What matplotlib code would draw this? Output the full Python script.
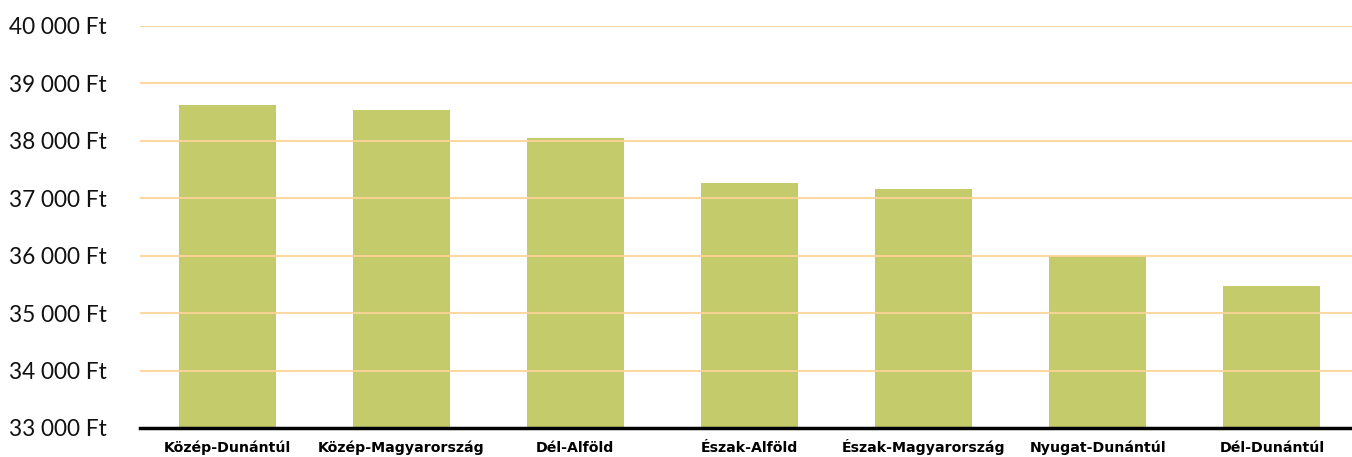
import matplotlib
matplotlib.use("Agg")
import matplotlib.pyplot as plt
from matplotlib.ticker import FuncFormatter

# Data
regions = ["Közép-Dunántúl", "Közép-Magyarország", "Dél-Alföld", "Észak-Alföld",
           "Észak-Magyarország", "Nyugat-Dunántúl", "Dél-Dunántúl"]
values = [38625, 38540, 38050, 37270, 37160, 36000, 35470]
y_ticks = [33000, 34000, 35000, 36000, 37000, 38000, 39000, 40000]

BAR_COLOR = "#C3CB6B"
GRID_COLOR = "#FDD498"

fig = plt.figure(figsize=(13.52, 4.57), dpi=100)
ax = fig.add_axes([140 / 1352, 29 / 457, 1 - 140 / 1352, (428 - 26) / 457])

x = range(len(regions))
ax.bar(x, values, width=0.557, color=BAR_COLOR, zorder=2)

# gridlines (not at the baseline)
for t in y_ticks[1:]:
    ax.axhline(t, color=GRID_COLOR, linewidth=1.5, zorder=3, alpha=0.9)

ax.set_ylim(33000, 40000)
ax.set_xlim(-0.5, 6.46)
ax.set_yticks(y_ticks)
ax.yaxis.set_major_formatter(FuncFormatter(lambda v, p: f"{int(v):,} Ft".replace(",", " ")))
ax.set_xticks(list(x))
ax.set_xticklabels(regions, fontfamily="DejaVu Sans", fontweight="bold", fontsize=10.2)
for lbl in ax.get_xticklabels():
    lbl.set_verticalalignment("baseline")

for lbl in ax.get_yticklabels():
    lbl.set_fontfamily("Lato")
    lbl.set_fontsize(16.3)
    lbl.set_color("#111111")

ax.tick_params(axis="y", length=0, pad=24)
ax.tick_params(axis="x", length=0, pad=17)

for s in ["top", "right", "left"]:
    ax.spines[s].set_visible(False)
ax.spines["bottom"].set_color("black")
ax.spines["bottom"].set_linewidth(2.5)
ax.spines["bottom"].set_zorder(4)

fig.savefig("out.png", dpi=100)
